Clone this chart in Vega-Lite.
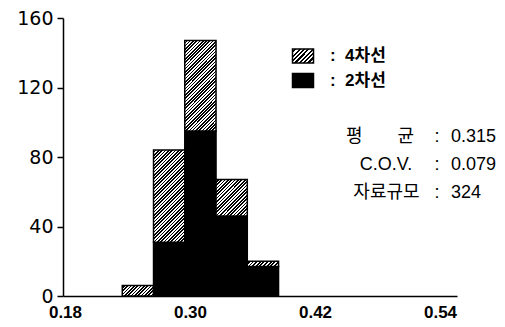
{
 "$schema": "https://vega.github.io/schema/vega-lite/v6.json",
 "width": 394,
 "height": 278,
 "autosize": {"type": "none"},
 "padding": {"left": 63, "top": 18, "right": 48, "bottom": 31},
 "background": "#ffffff",
 "config": {
  "view": {"stroke": null},
  "text": {"font": "Liberation Sans, Noto Sans CJK KR", "fontSize": 18, "color": "#000"}
 },
 "layer": [
  {
   "data": {"values": [
    {"lo": 0.235, "hi": 0.265, "lane": "4차선", "count": 6},
    {"lo": 0.265, "hi": 0.295, "lane": "2차선", "count": 31},
    {"lo": 0.265, "hi": 0.295, "lane": "4차선", "count": 53},
    {"lo": 0.295, "hi": 0.325, "lane": "2차선", "count": 95},
    {"lo": 0.295, "hi": 0.325, "lane": "4차선", "count": 52},
    {"lo": 0.325, "hi": 0.355, "lane": "2차선", "count": 46},
    {"lo": 0.325, "hi": 0.355, "lane": "4차선", "count": 21},
    {"lo": 0.355, "hi": 0.385, "lane": "2차선", "count": 17},
    {"lo": 0.355, "hi": 0.385, "lane": "4차선", "count": 3}
   ]},
   "transform": [
    {"stack": "count", "groupby": ["lo"], "sort": [{"field": "lane", "order": "ascending"}], "as": ["y0", "y1"]}
   ],
   "mark": {"type": "bar", "stroke": "#000", "strokeWidth": 1.5},
   "encoding": {
    "x": {"field": "lo", "type": "quantitative",
     "scale": {"domain": [0.1781, 0.5563], "nice": false, "zero": false},
     "axis": {"title": null, "values": [0.18, 0.3, 0.42, 0.54], "format": ".2f", "ticks": false, "grid": false,
      "labelPadding": 8, "labelFlush": false, "labelOverlap": false, "domainColor": "#000", "domainWidth": 1.5,
      "labelFont": "Liberation Sans", "labelFontSize": 17, "labelFontWeight": "bold", "labelColor": "#000"}},
    "x2": {"field": "hi"},
    "y": {"field": "y1", "type": "quantitative",
     "scale": {"domain": [0, 160], "nice": false},
     "axis": {"title": null, "values": [0, 40, 80, 120, 160], "grid": false, "tickSize": 6, "tickColor": "#000", "tickWidth": 1.5,
      "domainColor": "#000", "domainWidth": 1.5, "labelPadding": 4, "labelOverlap": false,
      "labelFont": "DejaVu Sans", "labelFontSize": 19, "labelColor": "#000"}},
    "y2": {"field": "y0"},
    "fill": {
     "field": "lane", "type": "nominal",
     "scale": {"domain": ["4차선", "2차선"], "range": [{"expr": "{gradient: 'linear', x1: 0, y1: 0, x2: 1.154, y2: 0.769, stops: [{offset: 0, color: '#fff'}, {offset: 0.0625, color: '#fff'}, {offset: 0.0625, color: '#000'}, {offset: 0.125, color: '#000'}, {offset: 0.125, color: '#fff'}, {offset: 0.1875, color: '#fff'}, {offset: 0.1875, color: '#000'}, {offset: 0.25, color: '#000'}, {offset: 0.25, color: '#fff'}, {offset: 0.3125, color: '#fff'}, {offset: 0.3125, color: '#000'}, {offset: 0.375, color: '#000'}, {offset: 0.375, color: '#fff'}, {offset: 0.4375, color: '#fff'}, {offset: 0.4375, color: '#000'}, {offset: 0.5, color: '#000'}, {offset: 0.5, color: '#fff'}, {offset: 0.5625, color: '#fff'}, {offset: 0.5625, color: '#000'}, {offset: 0.625, color: '#000'}, {offset: 0.625, color: '#fff'}, {offset: 0.6875, color: '#fff'}, {offset: 0.6875, color: '#000'}, {offset: 0.75, color: '#000'}, {offset: 0.75, color: '#fff'}, {offset: 0.8125, color: '#fff'}, {offset: 0.8125, color: '#000'}, {offset: 0.875, color: '#000'}, {offset: 0.875, color: '#fff'}, {offset: 0.9375, color: '#fff'}, {offset: 0.9375, color: '#000'}, {offset: 1, color: '#000'}]}"}, "#000000"]},
     "condition": [
      {"test": "datum.lane === '4차선' && datum.lo === 0.235", "value": {"gradient": "linear", "x1": 0, "y1": 0, "x2": 1.1995, "y2": 0.3973, "stops": [{"offset":0,"color":"#fff"},{"offset":0.04,"color":"#fff"},{"offset":0.04,"color":"#000"},{"offset":0.08,"color":"#000"},{"offset":0.08,"color":"#fff"},{"offset":0.12,"color":"#fff"},{"offset":0.12,"color":"#000"},{"offset":0.16,"color":"#000"},{"offset":0.16,"color":"#fff"},{"offset":0.2,"color":"#fff"},{"offset":0.2,"color":"#000"},{"offset":0.24,"color":"#000"},{"offset":0.24,"color":"#fff"},{"offset":0.28,"color":"#fff"},{"offset":0.28,"color":"#000"},{"offset":0.32,"color":"#000"},{"offset":0.32,"color":"#fff"},{"offset":0.36,"color":"#fff"},{"offset":0.36,"color":"#000"},{"offset":0.4,"color":"#000"},{"offset":0.4,"color":"#fff"},{"offset":0.44,"color":"#fff"},{"offset":0.44,"color":"#000"},{"offset":0.48,"color":"#000"},{"offset":0.48,"color":"#fff"},{"offset":0.52,"color":"#fff"},{"offset":0.52,"color":"#000"},{"offset":0.56,"color":"#000"},{"offset":0.56,"color":"#fff"},{"offset":0.6,"color":"#fff"},{"offset":0.6,"color":"#000"},{"offset":0.64,"color":"#000"},{"offset":0.64,"color":"#fff"},{"offset":0.68,"color":"#fff"},{"offset":0.68,"color":"#000"},{"offset":0.72,"color":"#000"},{"offset":0.72,"color":"#fff"},{"offset":0.76,"color":"#fff"},{"offset":0.76,"color":"#000"},{"offset":0.8,"color":"#000"},{"offset":0.8,"color":"#fff"},{"offset":0.84,"color":"#fff"},{"offset":0.84,"color":"#000"},{"offset":0.88,"color":"#000"},{"offset":0.88,"color":"#fff"},{"offset":0.92,"color":"#fff"},{"offset":0.92,"color":"#000"},{"offset":0.96,"color":"#000"},{"offset":0.96,"color":"#fff"},{"offset":1,"color":"#fff"}]}},
      {"test": "datum.lane === '4차선' && datum.lo === 0.265", "value": {"gradient": "linear", "x1": 0, "y1": 0, "x2": 0.4096, "y2": 1.2013, "stops": [{"offset":0,"color":"#fff"},{"offset":0.0135,"color":"#fff"},{"offset":0.0135,"color":"#000"},{"offset":0.027,"color":"#000"},{"offset":0.027,"color":"#fff"},{"offset":0.0405,"color":"#fff"},{"offset":0.0405,"color":"#000"},{"offset":0.054,"color":"#000"},{"offset":0.054,"color":"#fff"},{"offset":0.0675,"color":"#fff"},{"offset":0.0675,"color":"#000"},{"offset":0.081,"color":"#000"},{"offset":0.081,"color":"#fff"},{"offset":0.0945,"color":"#fff"},{"offset":0.0945,"color":"#000"},{"offset":0.108,"color":"#000"},{"offset":0.108,"color":"#fff"},{"offset":0.1215,"color":"#fff"},{"offset":0.1215,"color":"#000"},{"offset":0.135,"color":"#000"},{"offset":0.135,"color":"#fff"},{"offset":0.1485,"color":"#fff"},{"offset":0.1485,"color":"#000"},{"offset":0.162,"color":"#000"},{"offset":0.162,"color":"#fff"},{"offset":0.1755,"color":"#fff"},{"offset":0.1755,"color":"#000"},{"offset":0.189,"color":"#000"},{"offset":0.189,"color":"#fff"},{"offset":0.2025,"color":"#fff"},{"offset":0.2025,"color":"#000"},{"offset":0.216,"color":"#000"},{"offset":0.216,"color":"#fff"},{"offset":0.2295,"color":"#fff"},{"offset":0.2295,"color":"#000"},{"offset":0.243,"color":"#000"},{"offset":0.243,"color":"#fff"},{"offset":0.2565,"color":"#fff"},{"offset":0.2565,"color":"#000"},{"offset":0.27,"color":"#000"},{"offset":0.27,"color":"#fff"},{"offset":0.2835,"color":"#fff"},{"offset":0.2835,"color":"#000"},{"offset":0.297,"color":"#000"},{"offset":0.297,"color":"#fff"},{"offset":0.3105,"color":"#fff"},{"offset":0.3105,"color":"#000"},{"offset":0.324,"color":"#000"},{"offset":0.324,"color":"#fff"},{"offset":0.3375,"color":"#fff"},{"offset":0.3375,"color":"#000"},{"offset":0.351,"color":"#000"},{"offset":0.351,"color":"#fff"},{"offset":0.3645,"color":"#fff"},{"offset":0.3645,"color":"#000"},{"offset":0.378,"color":"#000"},{"offset":0.378,"color":"#fff"},{"offset":0.3915,"color":"#fff"},{"offset":0.3915,"color":"#000"},{"offset":0.405,"color":"#000"},{"offset":0.405,"color":"#fff"},{"offset":0.4185,"color":"#fff"},{"offset":0.4185,"color":"#000"},{"offset":0.432,"color":"#000"},{"offset":0.432,"color":"#fff"},{"offset":0.4455,"color":"#fff"},{"offset":0.4455,"color":"#000"},{"offset":0.459,"color":"#000"},{"offset":0.459,"color":"#fff"},{"offset":0.4725,"color":"#fff"},{"offset":0.4725,"color":"#000"},{"offset":0.486,"color":"#000"},{"offset":0.486,"color":"#fff"},{"offset":0.4995,"color":"#fff"},{"offset":0.4995,"color":"#000"},{"offset":0.513,"color":"#000"},{"offset":0.513,"color":"#fff"},{"offset":0.5265,"color":"#fff"},{"offset":0.5265,"color":"#000"},{"offset":0.54,"color":"#000"},{"offset":0.54,"color":"#fff"},{"offset":0.5535,"color":"#fff"},{"offset":0.5535,"color":"#000"},{"offset":0.567,"color":"#000"},{"offset":0.567,"color":"#fff"},{"offset":0.5805,"color":"#fff"},{"offset":0.5805,"color":"#000"},{"offset":0.594,"color":"#000"},{"offset":0.594,"color":"#fff"},{"offset":0.6075,"color":"#fff"},{"offset":0.6075,"color":"#000"},{"offset":0.621,"color":"#000"},{"offset":0.621,"color":"#fff"},{"offset":0.6345,"color":"#fff"},{"offset":0.6345,"color":"#000"},{"offset":0.648,"color":"#000"},{"offset":0.648,"color":"#fff"},{"offset":0.6615,"color":"#fff"},{"offset":0.6615,"color":"#000"},{"offset":0.675,"color":"#000"},{"offset":0.675,"color":"#fff"},{"offset":0.6885,"color":"#fff"},{"offset":0.6885,"color":"#000"},{"offset":0.702,"color":"#000"},{"offset":0.702,"color":"#fff"},{"offset":0.7155,"color":"#fff"},{"offset":0.7155,"color":"#000"},{"offset":0.729,"color":"#000"},{"offset":0.729,"color":"#fff"},{"offset":0.7425,"color":"#fff"},{"offset":0.7425,"color":"#000"},{"offset":0.756,"color":"#000"},{"offset":0.756,"color":"#fff"},{"offset":0.7695,"color":"#fff"},{"offset":0.7695,"color":"#000"},{"offset":0.783,"color":"#000"},{"offset":0.783,"color":"#fff"},{"offset":0.7965,"color":"#fff"},{"offset":0.7965,"color":"#000"},{"offset":0.81,"color":"#000"},{"offset":0.81,"color":"#fff"},{"offset":0.8235,"color":"#fff"},{"offset":0.8235,"color":"#000"},{"offset":0.837,"color":"#000"},{"offset":0.837,"color":"#fff"},{"offset":0.8505,"color":"#fff"},{"offset":0.8505,"color":"#000"},{"offset":0.864,"color":"#000"},{"offset":0.864,"color":"#fff"},{"offset":0.8775,"color":"#fff"},{"offset":0.8775,"color":"#000"},{"offset":0.891,"color":"#000"},{"offset":0.891,"color":"#fff"},{"offset":0.9045,"color":"#fff"},{"offset":0.9045,"color":"#000"},{"offset":0.918,"color":"#000"},{"offset":0.918,"color":"#fff"},{"offset":0.9315,"color":"#fff"},{"offset":0.9315,"color":"#000"},{"offset":0.945,"color":"#000"},{"offset":0.945,"color":"#fff"},{"offset":0.9585,"color":"#fff"},{"offset":0.9585,"color":"#000"},{"offset":0.972,"color":"#000"},{"offset":0.972,"color":"#fff"},{"offset":0.9855,"color":"#fff"},{"offset":0.9855,"color":"#000"},{"offset":0.999,"color":"#000"},{"offset":0.999,"color":"#fff"},{"offset":1,"color":"#fff"}]}},
      {"test": "datum.lane === '4차선' && datum.lo === 0.295", "value": {"gradient": "linear", "x1": 0, "y1": 0, "x2": 0.4178, "y2": 1.2023, "stops": [{"offset":0,"color":"#fff"},{"offset":0.0135,"color":"#fff"},{"offset":0.0135,"color":"#000"},{"offset":0.027,"color":"#000"},{"offset":0.027,"color":"#fff"},{"offset":0.0405,"color":"#fff"},{"offset":0.0405,"color":"#000"},{"offset":0.054,"color":"#000"},{"offset":0.054,"color":"#fff"},{"offset":0.0675,"color":"#fff"},{"offset":0.0675,"color":"#000"},{"offset":0.081,"color":"#000"},{"offset":0.081,"color":"#fff"},{"offset":0.0945,"color":"#fff"},{"offset":0.0945,"color":"#000"},{"offset":0.108,"color":"#000"},{"offset":0.108,"color":"#fff"},{"offset":0.1215,"color":"#fff"},{"offset":0.1215,"color":"#000"},{"offset":0.135,"color":"#000"},{"offset":0.135,"color":"#fff"},{"offset":0.1485,"color":"#fff"},{"offset":0.1485,"color":"#000"},{"offset":0.162,"color":"#000"},{"offset":0.162,"color":"#fff"},{"offset":0.1755,"color":"#fff"},{"offset":0.1755,"color":"#000"},{"offset":0.189,"color":"#000"},{"offset":0.189,"color":"#fff"},{"offset":0.2025,"color":"#fff"},{"offset":0.2025,"color":"#000"},{"offset":0.216,"color":"#000"},{"offset":0.216,"color":"#fff"},{"offset":0.2295,"color":"#fff"},{"offset":0.2295,"color":"#000"},{"offset":0.243,"color":"#000"},{"offset":0.243,"color":"#fff"},{"offset":0.2565,"color":"#fff"},{"offset":0.2565,"color":"#000"},{"offset":0.27,"color":"#000"},{"offset":0.27,"color":"#fff"},{"offset":0.2835,"color":"#fff"},{"offset":0.2835,"color":"#000"},{"offset":0.297,"color":"#000"},{"offset":0.297,"color":"#fff"},{"offset":0.3105,"color":"#fff"},{"offset":0.3105,"color":"#000"},{"offset":0.324,"color":"#000"},{"offset":0.324,"color":"#fff"},{"offset":0.3375,"color":"#fff"},{"offset":0.3375,"color":"#000"},{"offset":0.351,"color":"#000"},{"offset":0.351,"color":"#fff"},{"offset":0.3645,"color":"#fff"},{"offset":0.3645,"color":"#000"},{"offset":0.378,"color":"#000"},{"offset":0.378,"color":"#fff"},{"offset":0.3915,"color":"#fff"},{"offset":0.3915,"color":"#000"},{"offset":0.405,"color":"#000"},{"offset":0.405,"color":"#fff"},{"offset":0.4185,"color":"#fff"},{"offset":0.4185,"color":"#000"},{"offset":0.432,"color":"#000"},{"offset":0.432,"color":"#fff"},{"offset":0.4455,"color":"#fff"},{"offset":0.4455,"color":"#000"},{"offset":0.459,"color":"#000"},{"offset":0.459,"color":"#fff"},{"offset":0.4725,"color":"#fff"},{"offset":0.4725,"color":"#000"},{"offset":0.486,"color":"#000"},{"offset":0.486,"color":"#fff"},{"offset":0.4995,"color":"#fff"},{"offset":0.4995,"color":"#000"},{"offset":0.513,"color":"#000"},{"offset":0.513,"color":"#fff"},{"offset":0.5265,"color":"#fff"},{"offset":0.5265,"color":"#000"},{"offset":0.54,"color":"#000"},{"offset":0.54,"color":"#fff"},{"offset":0.5535,"color":"#fff"},{"offset":0.5535,"color":"#000"},{"offset":0.567,"color":"#000"},{"offset":0.567,"color":"#fff"},{"offset":0.5805,"color":"#fff"},{"offset":0.5805,"color":"#000"},{"offset":0.594,"color":"#000"},{"offset":0.594,"color":"#fff"},{"offset":0.6075,"color":"#fff"},{"offset":0.6075,"color":"#000"},{"offset":0.621,"color":"#000"},{"offset":0.621,"color":"#fff"},{"offset":0.6345,"color":"#fff"},{"offset":0.6345,"color":"#000"},{"offset":0.648,"color":"#000"},{"offset":0.648,"color":"#fff"},{"offset":0.6615,"color":"#fff"},{"offset":0.6615,"color":"#000"},{"offset":0.675,"color":"#000"},{"offset":0.675,"color":"#fff"},{"offset":0.6885,"color":"#fff"},{"offset":0.6885,"color":"#000"},{"offset":0.702,"color":"#000"},{"offset":0.702,"color":"#fff"},{"offset":0.7155,"color":"#fff"},{"offset":0.7155,"color":"#000"},{"offset":0.729,"color":"#000"},{"offset":0.729,"color":"#fff"},{"offset":0.7425,"color":"#fff"},{"offset":0.7425,"color":"#000"},{"offset":0.756,"color":"#000"},{"offset":0.756,"color":"#fff"},{"offset":0.7695,"color":"#fff"},{"offset":0.7695,"color":"#000"},{"offset":0.783,"color":"#000"},{"offset":0.783,"color":"#fff"},{"offset":0.7965,"color":"#fff"},{"offset":0.7965,"color":"#000"},{"offset":0.81,"color":"#000"},{"offset":0.81,"color":"#fff"},{"offset":0.8235,"color":"#fff"},{"offset":0.8235,"color":"#000"},{"offset":0.837,"color":"#000"},{"offset":0.837,"color":"#fff"},{"offset":0.8505,"color":"#fff"},{"offset":0.8505,"color":"#000"},{"offset":0.864,"color":"#000"},{"offset":0.864,"color":"#fff"},{"offset":0.8775,"color":"#fff"},{"offset":0.8775,"color":"#000"},{"offset":0.891,"color":"#000"},{"offset":0.891,"color":"#fff"},{"offset":0.9045,"color":"#fff"},{"offset":0.9045,"color":"#000"},{"offset":0.918,"color":"#000"},{"offset":0.918,"color":"#fff"},{"offset":0.9315,"color":"#fff"},{"offset":0.9315,"color":"#000"},{"offset":0.945,"color":"#000"},{"offset":0.945,"color":"#fff"},{"offset":0.9585,"color":"#fff"},{"offset":0.9585,"color":"#000"},{"offset":0.972,"color":"#000"},{"offset":0.972,"color":"#fff"},{"offset":0.9855,"color":"#fff"},{"offset":0.9855,"color":"#000"},{"offset":0.999,"color":"#000"},{"offset":0.999,"color":"#fff"},{"offset":1,"color":"#fff"}]}},
      {"test": "datum.lane === '4차선' && datum.lo === 0.325", "value": {"gradient": "linear", "x1": 0, "y1": 0, "x2": 0.9197, "y2": 1.0691, "stops": [{"offset":0,"color":"#fff"},{"offset":0.025,"color":"#fff"},{"offset":0.025,"color":"#000"},{"offset":0.05,"color":"#000"},{"offset":0.05,"color":"#fff"},{"offset":0.075,"color":"#fff"},{"offset":0.075,"color":"#000"},{"offset":0.1,"color":"#000"},{"offset":0.1,"color":"#fff"},{"offset":0.125,"color":"#fff"},{"offset":0.125,"color":"#000"},{"offset":0.15,"color":"#000"},{"offset":0.15,"color":"#fff"},{"offset":0.175,"color":"#fff"},{"offset":0.175,"color":"#000"},{"offset":0.2,"color":"#000"},{"offset":0.2,"color":"#fff"},{"offset":0.225,"color":"#fff"},{"offset":0.225,"color":"#000"},{"offset":0.25,"color":"#000"},{"offset":0.25,"color":"#fff"},{"offset":0.275,"color":"#fff"},{"offset":0.275,"color":"#000"},{"offset":0.3,"color":"#000"},{"offset":0.3,"color":"#fff"},{"offset":0.325,"color":"#fff"},{"offset":0.325,"color":"#000"},{"offset":0.35,"color":"#000"},{"offset":0.35,"color":"#fff"},{"offset":0.375,"color":"#fff"},{"offset":0.375,"color":"#000"},{"offset":0.4,"color":"#000"},{"offset":0.4,"color":"#fff"},{"offset":0.425,"color":"#fff"},{"offset":0.425,"color":"#000"},{"offset":0.45,"color":"#000"},{"offset":0.45,"color":"#fff"},{"offset":0.475,"color":"#fff"},{"offset":0.475,"color":"#000"},{"offset":0.5,"color":"#000"},{"offset":0.5,"color":"#fff"},{"offset":0.525,"color":"#fff"},{"offset":0.525,"color":"#000"},{"offset":0.55,"color":"#000"},{"offset":0.55,"color":"#fff"},{"offset":0.575,"color":"#fff"},{"offset":0.575,"color":"#000"},{"offset":0.6,"color":"#000"},{"offset":0.6,"color":"#fff"},{"offset":0.625,"color":"#fff"},{"offset":0.625,"color":"#000"},{"offset":0.65,"color":"#000"},{"offset":0.65,"color":"#fff"},{"offset":0.675,"color":"#fff"},{"offset":0.675,"color":"#000"},{"offset":0.7,"color":"#000"},{"offset":0.7,"color":"#fff"},{"offset":0.725,"color":"#fff"},{"offset":0.725,"color":"#000"},{"offset":0.75,"color":"#000"},{"offset":0.75,"color":"#fff"},{"offset":0.775,"color":"#fff"},{"offset":0.775,"color":"#000"},{"offset":0.8,"color":"#000"},{"offset":0.8,"color":"#fff"},{"offset":0.825,"color":"#fff"},{"offset":0.825,"color":"#000"},{"offset":0.85,"color":"#000"},{"offset":0.85,"color":"#fff"},{"offset":0.875,"color":"#fff"},{"offset":0.875,"color":"#000"},{"offset":0.9,"color":"#000"},{"offset":0.9,"color":"#fff"},{"offset":0.925,"color":"#fff"},{"offset":0.925,"color":"#000"},{"offset":0.95,"color":"#000"},{"offset":0.95,"color":"#fff"},{"offset":0.975,"color":"#fff"},{"offset":0.975,"color":"#000"},{"offset":1,"color":"#000"}]}},
      {"test": "datum.lane === '4차선' && datum.lo === 0.355", "value": {"gradient": "linear", "x1": 0, "y1": 0, "x2": 1.1345, "y2": 0.1879, "stops": [{"offset":0,"color":"#fff"},{"offset":0.05,"color":"#fff"},{"offset":0.05,"color":"#000"},{"offset":0.1,"color":"#000"},{"offset":0.1,"color":"#fff"},{"offset":0.15,"color":"#fff"},{"offset":0.15,"color":"#000"},{"offset":0.2,"color":"#000"},{"offset":0.2,"color":"#fff"},{"offset":0.25,"color":"#fff"},{"offset":0.25,"color":"#000"},{"offset":0.3,"color":"#000"},{"offset":0.3,"color":"#fff"},{"offset":0.35,"color":"#fff"},{"offset":0.35,"color":"#000"},{"offset":0.4,"color":"#000"},{"offset":0.4,"color":"#fff"},{"offset":0.45,"color":"#fff"},{"offset":0.45,"color":"#000"},{"offset":0.5,"color":"#000"},{"offset":0.5,"color":"#fff"},{"offset":0.55,"color":"#fff"},{"offset":0.55,"color":"#000"},{"offset":0.6,"color":"#000"},{"offset":0.6,"color":"#fff"},{"offset":0.65,"color":"#fff"},{"offset":0.65,"color":"#000"},{"offset":0.7,"color":"#000"},{"offset":0.7,"color":"#fff"},{"offset":0.75,"color":"#fff"},{"offset":0.75,"color":"#000"},{"offset":0.8,"color":"#000"},{"offset":0.8,"color":"#fff"},{"offset":0.85,"color":"#fff"},{"offset":0.85,"color":"#000"},{"offset":0.9,"color":"#000"},{"offset":0.9,"color":"#fff"},{"offset":0.95,"color":"#fff"},{"offset":0.95,"color":"#000"},{"offset":1,"color":"#000"}]}}
     ],
     "legend": {
      "orient": "none", "legendX": 231.5, "legendY": 29.5, "title": null, "padding": 0,
      "symbolType": "M-1.5,-1H1.5V1H-1.5Z", "symbolSize": 196,
      "symbolStrokeColor": "#000", "symbolStrokeWidth": 1.5,
      "labelFont": "Liberation Sans, Noto Sans CJK KR", "labelFontSize": 17, "labelFontWeight": "bold", "labelColor": "#000",
      "labelOffset": 18.5, "rowPadding": 3.5,
      "labelExpr": "':\u00a0\u00a0' + datum.label"
     }
    }
   }
  },
  {
   "data": {"values": [{"stat": "평\u00a0\u00a0\u00a0\u00a0\u00a0\u00a0\u00a0균", "value": "0.315"}]},
   "encoding": {"y": {"datum": 91.5, "type": "quantitative"}},
   "layer": [
    {"mark": {"type": "text", "align": "center", "baseline": "middle"}, "encoding": {"x": {"datum": 0.4824, "type": "quantitative"}, "text": {"field": "stat"}}},
    {"mark": {"type": "text", "align": "center", "baseline": "middle", "text": ":"}, "encoding": {"x": {"datum": 0.5371, "type": "quantitative"}}},
    {"mark": {"type": "text", "align": "left", "baseline": "middle"}, "encoding": {"x": {"datum": 0.5505, "type": "quantitative"}, "text": {"field": "value"}}}
   ]
  },
  {
   "data": {"values": [{"stat": "C.O.V.", "value": "0.079"}]},
   "encoding": {"y": {"datum": 75.4, "type": "quantitative"}},
   "layer": [
    {"mark": {"type": "text", "align": "center", "baseline": "middle"}, "encoding": {"x": {"datum": 0.4881, "type": "quantitative"}, "text": {"field": "stat"}}},
    {"mark": {"type": "text", "align": "center", "baseline": "middle", "text": ":"}, "encoding": {"x": {"datum": 0.5371, "type": "quantitative"}}},
    {"mark": {"type": "text", "align": "left", "baseline": "middle"}, "encoding": {"x": {"datum": 0.5505, "type": "quantitative"}, "text": {"field": "value"}}}
   ]
  },
  {
   "data": {"values": [{"stat": "자료규모", "value": "324"}]},
   "encoding": {"y": {"datum": 59.3, "type": "quantitative"}},
   "layer": [
    {"mark": {"type": "text", "align": "center", "baseline": "middle"}, "encoding": {"x": {"datum": 0.4886, "type": "quantitative"}, "text": {"field": "stat"}}},
    {"mark": {"type": "text", "align": "center", "baseline": "middle", "text": ":"}, "encoding": {"x": {"datum": 0.5371, "type": "quantitative"}}},
    {"mark": {"type": "text", "align": "left", "baseline": "middle"}, "encoding": {"x": {"datum": 0.5505, "type": "quantitative"}, "text": {"field": "value"}}}
   ]
  }
 ]
}
